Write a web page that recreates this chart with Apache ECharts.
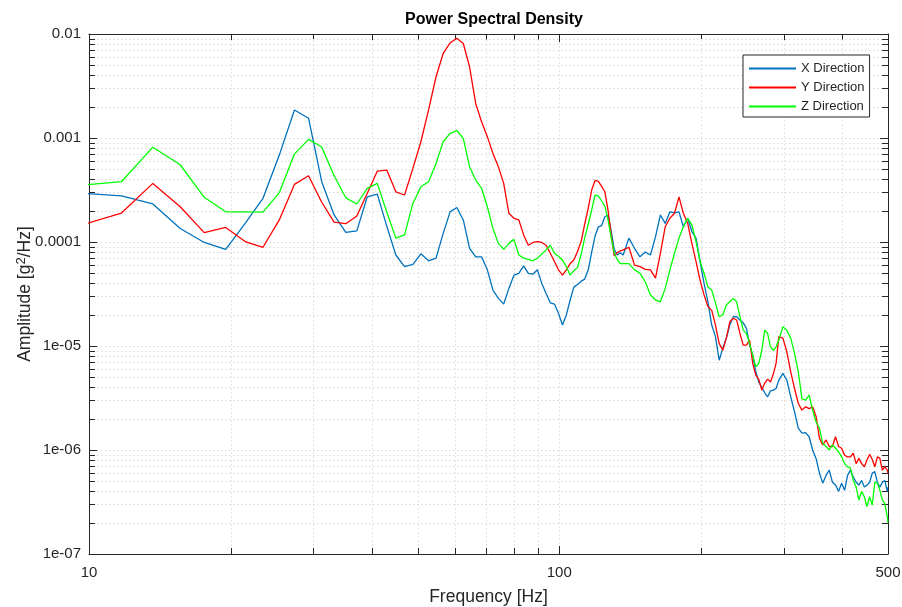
<!DOCTYPE html>
<html>
<head>
<meta charset="utf-8">
<title>Power Spectral Density</title>
<script src="https://cdn.jsdelivr.net/npm/echarts@6/dist/echarts.min.js"></script>
<style>
    html, body { margin: 0; padding: 0; background: #fff; }
    #chart { width: 902px; height: 607px; }
</style>
</head>
<body>
<div id="chart"></div>
<script>
// 频率点 [Hz]
const freqs = [
    9.77, 11.72, 13.67, 15.63, 17.58, 19.53, 21.48, 23.44, 25.39, 27.34,
    29.30, 31.25, 33.20, 35.16, 37.11, 39.06, 41.02, 42.97, 44.92, 46.88,
    48.83, 50.78, 52.73, 54.69, 56.64, 58.59, 60.55, 62.50, 64.45, 66.41,
    68.36, 70.31, 72.27, 74.22, 76.17, 78.13, 80.08, 82.03, 83.98, 85.94,
    87.89, 89.84, 91.80, 93.75, 95.70, 97.66, 99.61, 101.56, 103.52, 105.47,
    107.42, 109.38, 111.33, 113.28, 115.23, 117.19, 119.14, 121.09, 123.05, 125.00,
    126.95, 128.91, 130.86, 132.81, 134.77, 136.72,
    140.63, 144.53, 148.44, 152.34, 156.25, 160.16, 164.06, 167.97, 171.88, 175.78,
    179.69, 183.59, 187.50, 191.41, 195.31, 199.22, 203.13, 207.03, 210.94, 214.84,
    218.75, 222.66, 226.56, 230.47, 234.38, 238.28, 242.19, 246.09, 250.00, 253.91,
    257.81, 261.72, 265.63, 269.53, 273.44, 277.34, 281.25, 285.16, 289.06, 292.97,
    298.83, 304.69, 310.55, 316.41, 322.27, 328.13, 333.98, 339.84, 345.70, 351.56,
    357.42, 363.28, 369.14, 375.00, 380.86, 386.72, 392.58, 398.44, 404.30, 410.16,
    416.02, 421.88, 427.73, 433.59, 439.45, 445.31, 451.17, 457.03, 462.89, 468.75,
    474.61, 480.47, 486.33, 492.19, 498.05,
    500.00
];
// X方向
const xDir = [
    2.94e-4, 2.78e-4, 2.32e-4, 1.35e-4, 0.99e-4, 8.5e-5, 1.51e-4, 2.63e-4, 6.85e-4, 1.86e-3,
    1.55e-3, 3.8e-4, 1.82e-4, 1.24e-4, 1.28e-4, 2.72e-4, 2.89e-4, 1.42e-4, 7.5e-5, 5.8e-5,
    6.1e-5, 7.7e-5, 6.6e-5, 7.0e-5, 1.21e-4, 1.95e-4, 2.15e-4, 1.63e-4, 8.7e-5, 7.2e-5,
    7.2e-5, 5.4e-5, 3.45e-5, 2.87e-5, 2.53e-5, 3.58e-5, 4.8e-5, 5.0e-5, 5.9e-5, 5.0e-5,
    4.9e-5, 5.4e-5, 4.0e-5, 3.2e-5, 2.6e-5, 2.53e-5, 2.06e-5, 1.59e-5, 1.99e-5, 2.77e-5,
    3.7e-5, 3.9e-5, 4.2e-5, 4.4e-5, 5.4e-5, 8.0e-5, 1.14e-4, 1.40e-4, 1.44e-4, 1.75e-4,
    1.82e-4, 1.28e-4, 8.5e-5, 7.5e-5, 7.9e-5, 7.5e-5,
    1.09e-4, 8.7e-5, 7.2e-5, 8.0e-5, 7.5e-5, 1.12e-4, 1.82e-4, 1.51e-4, 1.95e-4, 1.91e-4,
    1.95e-4, 1.40e-4, 1.69e-4, 1.26e-4, 1.09e-4, 6.5e-5, 4.0e-5, 2.66e-5, 1.59e-5, 1.23e-5,
    7.3e-6, 9.5e-6, 1.19e-5, 1.59e-5, 1.91e-5, 1.91e-5, 1.78e-5, 1.67e-5, 1.48e-5, 1.02e-5,
    8.16e-6, 5.65e-6, 4.5e-6, 4.0e-6, 3.55e-6, 3.25e-6, 3.7e-6, 3.76e-6, 3.9e-6, 4.7e-6,
    5.45e-6, 4.7e-6, 3.25e-6, 2.33e-6, 1.62e-6, 1.45e-6, 1.47e-6, 1.34e-6, 1.0e-6, 8.3e-7,
    6.0e-7, 4.8e-7, 5.7e-7, 6.4e-7, 4.9e-7, 4.6e-7, 4.0e-7, 4.8e-7, 4.1e-7, 5.7e-7,
    6.4e-7, 5.5e-7, 4.9e-7, 4.6e-7, 5.1e-7, 4.4e-7, 4.6e-7, 4.9e-7, 6.0e-7, 6.2e-7,
    4.9e-7, 4.4e-7, 4.9e-7, 5.1e-7, 4.0e-7,
    4.4e-7
];
// Y方向
const yDir = [
    1.48e-4, 1.90e-4, 3.66e-4, 2.18e-4, 1.23e-4, 1.38e-4, 1.01e-4, 8.9e-5, 1.63e-4, 3.58e-4,
    4.33e-4, 2.41e-4, 1.55e-4, 1.50e-4, 1.78e-4, 2.94e-4, 4.8e-4, 4.92e-4, 3.04e-4, 2.83e-4,
    5.1e-4, 9.2e-4, 1.86e-3, 3.88e-3, 6.5e-3, 8.2e-3, 9.1e-3, 8.1e-3, 4.84e-3, 2.15e-3,
    1.43e-3, 1.03e-3, 7.1e-4, 5.3e-4, 3.66e-4, 1.89e-4, 1.69e-4, 1.63e-4, 1.17e-4, 9.3e-5,
    9.9e-5, 1.01e-4, 9.9e-5, 9.3e-5, 7.8e-5, 6.5e-5, 5.4e-5, 4.8e-5, 5.4e-5, 6.2e-5,
    6.7e-5, 8.16e-5, 1.02e-4, 1.49e-4, 2.12e-4, 3.16e-4, 3.91e-4, 3.83e-4, 3.43e-4, 3.04e-4,
    2.03e-4, 1.17e-4, 7.35e-5, 7.9e-5, 8.2e-5, 8.4e-5,
    8.9e-5, 6.0e-5, 5.8e-5, 5.45e-5, 5.4e-5, 4.5e-5, 7.8e-5, 1.40e-4, 1.69e-4, 1.89e-4,
    2.72e-4, 1.89e-4, 1.51e-4, 9.7e-5, 6.5e-5, 4.3e-5, 3.1e-5, 2.4e-5, 2.2e-5, 1.59e-5,
    1.06e-5, 9.1e-6, 1.19e-5, 1.71e-5, 1.85e-5, 1.78e-5, 1.32e-5, 1.02e-5, 1.02e-5, 1.14e-5,
    6.8e-6, 5.25e-6, 4.78e-6, 3.76e-6, 4.4e-6, 4.8e-6, 4.5e-6, 5.37e-6, 6.8e-6, 1.23e-5,
    1.19e-5, 8.8e-6, 5.65e-6, 3.9e-6, 2.8e-6, 2.42e-6, 2.6e-6, 2.5e-6, 2.6e-6, 2.1e-6,
    1.3e-6, 1.12e-6, 1.25e-6, 1.08e-6, 1.08e-6, 1.34e-6, 1.08e-6, 1.04e-6, 8.9e-7, 8.6e-7,
    8.6e-7, 9.3e-7, 7.4e-7, 8.3e-7, 7.4e-7, 6.9e-7, 8.0e-7, 9.1e-7, 8.1e-7, 6.9e-7,
    8.6e-7, 8.3e-7, 6.4e-7, 6.9e-7, 6.4e-7,
    6.0e-7
];
// Z方向
const zDir = [
    3.53e-4, 3.8e-4, 8.16e-4, 5.53e-4, 2.69e-4, 1.95e-4, 1.95e-4, 1.94e-4, 2.98e-4, 7.0e-4,
    9.7e-4, 8.2e-4, 4.33e-4, 2.66e-4, 2.32e-4, 3.28e-4, 3.66e-4, 1.94e-4, 1.09e-4, 1.17e-4,
    2.35e-4, 3.4e-4, 3.8e-4, 5.7e-4, 9.2e-4, 1.11e-3, 1.18e-3, 9.9e-4, 5.3e-4, 3.94e-4,
    3.28e-4, 2.18e-4, 1.35e-4, 9.7e-5, 8.5e-5, 9.7e-5, 1.06e-4, 7.5e-5, 7.0e-5, 6.8e-5,
    6.6e-5, 7.0e-5, 7.65e-5, 8.4e-5, 9.3e-5, 7.8e-5, 7.3e-5, 6.7e-5, 5.8e-5, 4.8e-5,
    5.3e-5, 5.7e-5, 7.65e-5, 1.10e-4, 1.49e-4, 2.03e-4, 2.83e-4, 2.77e-4, 2.48e-4, 2.22e-4,
    1.63e-4, 1.10e-4, 7.8e-5, 6.8e-5, 6.2e-5, 6.2e-5,
    6.2e-5, 5.4e-5, 5.0e-5, 4.15e-5, 3.1e-5, 2.77e-5, 2.66e-5, 3.58e-5, 5.4e-5, 7.8e-5,
    1.09e-4, 1.40e-4, 1.69e-4, 1.46e-4, 1.01e-4, 6.5e-5, 5.0e-5, 3.7e-5, 3.45e-5, 2.6e-5,
    1.91e-5, 1.99e-5, 2.48e-5, 2.66e-5, 2.87e-5, 2.66e-5, 1.91e-5, 1.42e-5, 1.32e-5, 1.06e-5,
    8.16e-6, 6.3e-6, 6.8e-6, 9.1e-6, 1.42e-5, 1.32e-5, 9.8e-6, 9.1e-6, 9.8e-6, 1.14e-5,
    1.53e-5, 1.42e-5, 1.19e-5, 8.5e-6, 5.65e-6, 3.1e-6, 3.02e-6, 3.37e-6, 2.42e-6, 1.87e-6,
    1.62e-6, 1.16e-6, 1.08e-6, 1.0e-6, 1.12e-6, 1.04e-6, 9.6e-7, 8.6e-7, 7.4e-7, 6.9e-7,
    6.7e-7, 5.1e-7, 4.4e-7, 3.3e-7, 4.0e-7, 3.55e-7, 2.85e-7, 3.55e-7, 2.95e-7, 4.9e-7,
    4.8e-7, 4.1e-7, 3.3e-7, 3.07e-7, 2.3e-7,
    2.0e-7
];
// 刻度
const xTickLabels = ['10', '100', '500'];
const yTickLabels = ['1e-07', '1e-06', '1e-05', '0.0001', '0.001', '0.01'];
const xMinorTicks = [20, 30, 40, 50, 60, 70, 80, 90, 200, 300, 400];
const yDecades = [1e-7, 1e-6, 1e-5, 1e-4, 1e-3];
const yMinorMantissa = [2, 3, 4, 5, 6, 7, 8, 9];

(function () {
    const X_MIN = 10, X_MAX = 500, Y_MIN = 1e-7, Y_MAX = 1e-2;
    const AXIS_COLOR = '#262626';
    const GRID_COLOR = '#d9d9d9';
    const FONT = '"Liberation Sans", Arial, Helvetica, sans-serif';
    const my_echart = echarts.init(document.getElementById('chart'), null, { renderer: 'canvas' });

    const pair = (vals) => freqs.map((f, i) => [f, vals[i]]); // 频率和数值组合
    const yMinorTicks = [];
    yDecades.forEach(d => yMinorMantissa.forEach(m => yMinorTicks.push([X_MIN, m * d])));

    const tickStyle = { stroke: AXIS_COLOR, lineWidth: 1 };
    const gridStyle = { stroke: GRID_COLOR, lineWidth: 1, lineDash: [1.5, 2.5] };

    // 次网格线 + 次刻度（竖线）
    function renderXMinor(params, api) {
        const b = api.coord([api.value(0), Y_MIN]);
        const t = api.coord([api.value(0), Y_MAX]);
        const x = Math.round(b[0]) + 0.5;
        return {
            type: 'group',
            children: [
                { type: 'line', shape: { x1: x, y1: b[1], x2: x, y2: t[1] }, style: gridStyle },
                { type: 'line', shape: { x1: x, y1: b[1], x2: x, y2: b[1] - 6 }, style: tickStyle },
                { type: 'line', shape: { x1: x, y1: t[1], x2: x, y2: t[1] + 6 }, style: tickStyle }
            ]
        };
    }
    // 次网格线 + 次刻度（横线）
    function renderYMinor(params, api) {
        const l = api.coord([X_MIN, api.value(1)]);
        const r = api.coord([X_MAX, api.value(1)]);
        const y = Math.round(l[1]) + 0.5;
        return {
            type: 'group',
            children: [
                { type: 'line', shape: { x1: l[0], y1: y, x2: r[0], y2: y }, style: gridStyle },
                { type: 'line', shape: { x1: l[0], y1: y, x2: l[0] + 6, y2: y }, style: tickStyle },
                { type: 'line', shape: { x1: r[0], y1: y, x2: r[0] - 6, y2: y }, style: tickStyle }
            ]
        };
    }

    const axisBase = {
        type: 'log',
        logBase: 10,
        axisLine: { show: true, onZero: false, lineStyle: { color: AXIS_COLOR, width: 1 } },
        axisTick: { show: true, inside: true, length: 8, lineStyle: { color: AXIS_COLOR } },
        minorTick: { show: false },
        minorSplitLine: { show: false }
    };

    let option = {
        animation: false,
        backgroundColor: '#fff',
        title: {
            text: 'Power Spectral Density',
            left: 489,
            textAlign: 'center',
            top: 7,
            textStyle: { fontFamily: FONT, fontSize: 16, fontWeight: 'bold', color: '#000' }
        },
        legend: {
            data: ['X Direction', 'Y Direction', 'Z Direction'],
            orient: 'vertical',
            left: 743,
            top: 55,
            padding: [7, 5, 4, 5],
            itemGap: 6,
            itemWidth: 47,
            itemHeight: 14,
            itemStyle: { opacity: 0 }, //图例中不显示圆点，只留线
            borderColor: AXIS_COLOR,
            borderWidth: 1,
            borderRadius: 0,
            backgroundColor: '#fff',
            textStyle: { fontFamily: FONT, fontSize: 13, color: AXIS_COLOR }
        },
        grid: {
            left: 89, right: 14, top: 34, bottom: 53,
            containLabel: false,
            outerBoundsMode: 'none' //固定绘图区，不因文字自动收缩
        },
        xAxis: [
            Object.assign({}, axisBase, {
                position: 'bottom',
                min: X_MIN,
                max: X_MAX,
                name: 'Frequency [Hz]',
                nameLocation: 'middle',
                nameGap: 34,
                nameMoveOverlap: false,
                nameTextStyle: { fontFamily: FONT, fontSize: 17.5, color: AXIS_COLOR },
                axisLabel: {
                    fontFamily: FONT, fontSize: 15, color: AXIS_COLOR, margin: 11,
                    showMinLabel: true, showMaxLabel: true,
                    formatter: function (v) {
                        const s = String(Math.round(v));
                        return xTickLabels.indexOf(s) >= 0 ? s : '';
                    }
                },
                splitLine: { show: true, lineStyle: { color: GRID_COLOR, type: [1.5, 2.5] } }
            }),
            Object.assign({}, axisBase, {
                position: 'top',
                min: X_MIN,
                max: X_MAX,
                axisLabel: { show: false },
                splitLine: { show: false }
            })
        ],
        yAxis: [
            Object.assign({}, axisBase, {
                position: 'left',
                min: Y_MIN,
                max: Y_MAX,
                splitNumber: 5,
                name: 'Amplitude [g{sup|2}/Hz]',
                nameLocation: 'middle',
                nameGap: 54,
                nameMoveOverlap: false, //名称不自动避让刻度标签
                nameTextStyle: {
                    fontFamily: FONT, fontSize: 17.5, color: AXIS_COLOR,
                    rich: {
                        sup: { fontFamily: FONT, fontSize: 13, color: AXIS_COLOR, verticalAlign: 'top', padding: [0, 0, 7, 0] }
                    }
                },
                axisLabel: {
                    fontFamily: FONT, fontSize: 15, color: AXIS_COLOR, margin: 8,
                    formatter: function (v) {
                        const e = Math.round(Math.log10(v));
                        return yTickLabels[e + 7] || '';
                    }
                },
                splitLine: { show: true, lineStyle: { color: GRID_COLOR, type: [1.5, 2.5] } }
            }),
            Object.assign({}, axisBase, {
                position: 'right',
                min: Y_MIN,
                max: Y_MAX,
                splitNumber: 5,
                axisLabel: { show: false },
                splitLine: { show: false }
            })
        ],
        series: [
            {
                type: 'custom',
                name: 'xminor',
                silent: true,
                z: 1,
                clip: false,
                renderItem: renderXMinor,
                data: xMinorTicks.map(f => [f, Y_MIN])
            },
            {
                type: 'custom',
                name: 'yminor',
                silent: true,
                z: 1,
                clip: false,
                renderItem: renderYMinor,
                data: yMinorTicks
            },
            {
                name: 'X Direction',
                type: 'line',
                symbol: 'none',
                z: 3,
                color: '#0072BD',
                lineStyle: { width: 1.3, color: '#0072BD' },
                data: pair(xDir)
            },
            {
                name: 'Y Direction',
                type: 'line',
                symbol: 'none',
                z: 3,
                color: '#FF0000',
                lineStyle: { width: 1.3, color: '#FF0000' },
                data: pair(yDir)
            },
            {
                name: 'Z Direction',
                type: 'line',
                symbol: 'none',
                z: 3,
                color: '#00FF00',
                lineStyle: { width: 1.3, color: '#00FF00' },
                data: pair(zDir)
            }
        ]
    };
    my_echart.setOption(option);
    window.addEventListener('resize', function () {
        my_echart.resize();
    });
})();
</script>
</body>
</html>
